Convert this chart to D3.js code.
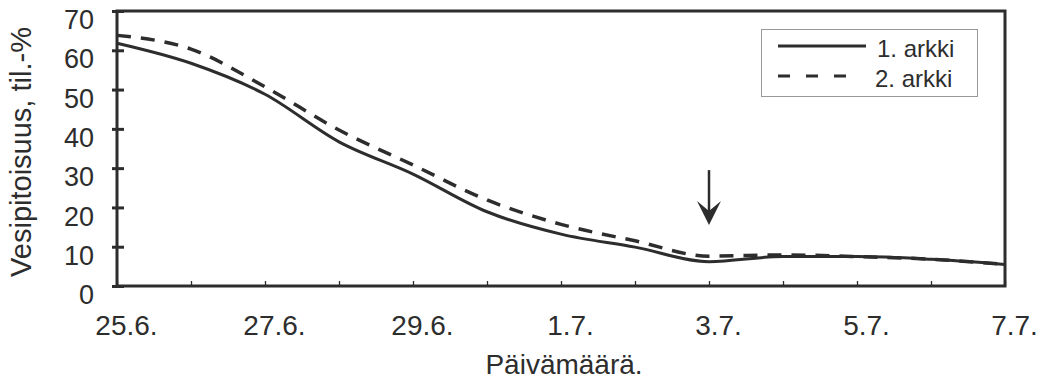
<!DOCTYPE html>
<html>
<head>
<meta charset="utf-8">
<script src="https://cdn.jsdelivr.net/npm/d3@7"></script>
<style>
  body { margin: 0; background: #fff; }
  text { font-family: "Liberation Sans", Arial, sans-serif; fill: #2d2d2d; }
</style>
</head>
<body>
<script>
// days since 25.6.
const days = [0, 1, 2, 3, 4, 5, 6, 7, 8, 9, 10, 11, 12];
const tickLabels = ["25.6.", "", "27.6.", "", "29.6.", "", "1.7.", "", "3.7.", "", "5.7.", "", "7.7."];
const arkki1 = [61.8, 56.7, 48.8, 36.7, 28.5, 18.9, 13.2, 9.9, 6.2, 7.5, 7.5, 6.8, 5.5];
const arkki2 = [63.8, 60.3, 50.7, 39.7, 30.8, 21.9, 15.7, 11.5, 7.6, 7.9, 7.5, 6.8, 5.5];
const seriesNames = ["1. arkki", "2. arkki"];
const yTicks = [0, 10, 20, 30, 40, 50, 60, 70];
// arrow marker (day, from value, to value)
const arrowDay = 8;
const arrowFrom = 29.5;
const arrowTo = 15.5;

const width = 1049;
const height = 382;
const marginLeft = 117;
const marginRight = 44;
const marginTop = 11;
const marginBottom = 96;
const ink = "#2d2d2d";

const svg = d3.select("body")
    .append("svg")
    .attr("width", width)
    .attr("height", height);

const x = d3.scaleLinear()
    .domain([0, 12])
    .range([marginLeft, width - marginRight]);
const y = d3.scaleLinear()
    .domain([0, 70])
    .range([height - marginBottom, marginTop]);

// frame
svg.append("rect")
    .attr("x", x(0))
    .attr("y", y(70))
    .attr("width", x(12) - x(0))
    .attr("height", y(0) - y(70))
    .attr("fill", "none")
    .attr("stroke", ink)
    .attr("stroke-width", 3);

// y axis
const yAxis = svg.append("g")
    .attr("transform", "translate(" + x(0) + ",0)")
    .call(d3.axisLeft(y).tickValues(yTicks).tickSize(0).tickPadding(23));
yAxis.select(".domain").remove();
yAxis.selectAll(".tick line")
    .attr("x1", -5).attr("x2", 7)
    .attr("stroke", ink).attr("stroke-width", 3);
yAxis.selectAll(".tick text")
    .attr("y", 9)
    .style("font-size", "27px")
    .style("font-family", "Liberation Sans, Arial, sans-serif")
    .attr("fill", ink);

// x axis
const xAxis = svg.append("g")
    .attr("transform", "translate(0," + y(0) + ")")
    .call(d3.axisBottom(x).tickValues(days).tickFormat((d, i) => tickLabels[i]).tickSize(0));
xAxis.select(".domain").remove();
xAxis.selectAll(".tick line")
    .attr("y2", -5)
    .attr("stroke", ink).attr("stroke-width", 1.3);
xAxis.selectAll(".tick text")
    .attr("y", 49).attr("dy", 0).attr("x", 9)
    .style("font-size", "28px")
    .style("font-family", "Liberation Sans, Arial, sans-serif")
    .attr("fill", ink);

// axis titles
svg.append("text")
    .attr("x", (x(0) + x(12)) / 2 + 3)
    .attr("y", 374)
    .attr("text-anchor", "middle")
    .style("font-size", "28px")
    .text("Päivämäärä.");

svg.append("text")
    .attr("transform", "translate(31," + 152 + ") rotate(-90)")
    .attr("text-anchor", "middle")
    .style("font-size", "29px")
    .text("Vesipitoisuus, til.-%");

// lines
const line = d3.line()
    .x((d, i) => x(days[i]))
    .y(d => y(d))
    .curve(d3.curveMonotoneX);

svg.append("path")
    .datum(arkki2)
    .attr("fill", "none")
    .attr("stroke", ink)
    .attr("stroke-width", 3.5)
    .attr("stroke-dasharray", "14,10")
    .attr("d", line);

svg.append("path")
    .datum(arkki1)
    .attr("fill", "none")
    .attr("stroke", ink)
    .attr("stroke-width", 3)
    .attr("d", line);

// arrow
const ax = x(arrowDay);
const tipY = y(arrowTo);
svg.append("line")
    .attr("x1", ax).attr("x2", ax)
    .attr("y1", y(arrowFrom)).attr("y2", tipY - 12)
    .attr("stroke", ink)
    .attr("stroke-width", 2.5);
svg.append("path")
    .attr("d", "M" + ax + "," + tipY +
        " L" + (ax - 12) + "," + (tipY - 24) +
        " L" + ax + "," + (tipY - 14) +
        " L" + (ax + 12) + "," + (tipY - 24) + " Z")
    .attr("fill", ink);

// legend
const legend = svg.append("g");
legend.append("rect")
    .attr("x", 761.5).attr("y", 29.5)
    .attr("width", 216).attr("height", 67)
    .attr("fill", "#fff")
    .attr("stroke", "#999")
    .attr("stroke-width", 1);

seriesNames.forEach((name, i) => {
    const ly = 46 + i * 30;
    legend.append("line")
        .attr("x1", 778).attr("x2", i === 1 ? 847 : 866)
        .attr("y1", ly).attr("y2", ly)
        .attr("stroke", ink)
        .attr("stroke-width", 3)
        .attr("stroke-dasharray", i === 1 ? "12,16" : null);
    legend.append("text")
        .attr("x", i === 1 ? 875 : 877)
        .attr("y", ly + 11)
        .style("font-size", "24px")
        .text(name);
});
</script>
</body>
</html>
